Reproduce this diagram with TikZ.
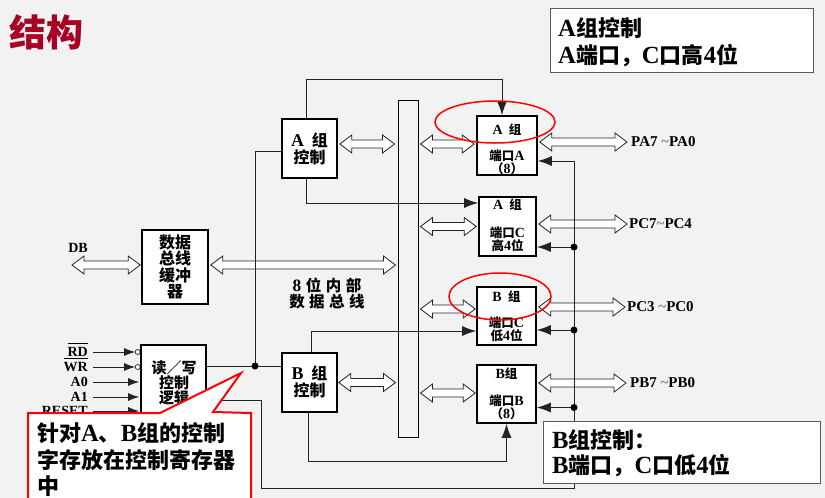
\documentclass[tikz,border=0pt]{standalone}
\usepackage{fontspec}
\setmainfont{Liberation Serif}
\newfontfamily\cjk{Noto Sans CJK SC}
\newfontfamily\latf{Liberation Serif}[Scale=1.12]
\usetikzlibrary{arrows.meta,calc,shapes.geometric}
\definecolor{bg}{RGB}{242,242,242}
\definecolor{titlered}{RGB}{168,0,36}
\definecolor{linec}{RGB}{35,35,35}
\newcommand\lat[1]{{\latf\bfseries #1}}
\newcommand\gapc{\hspace{4.5pt}}
\newcommand\ovl[1]{\setbox0\hbox{#1}\rlap{\rule[12.8pt]{\wd0}{0.8pt}}\box0}
\tikzset{
 blk/.style={draw=black, line width=1.6pt, fill=white, inner sep=0pt},
 conn/.style={draw=linec, line width=1pt},
 arr/.style={-{Latex[length=14pt,width=10pt]}},
 arrs/.style={-{Latex[length=11pt,width=8pt]}},
 txt/.style={inner sep=0pt, font=\cjk\bfseries\fontsize{#1}{#1}\selectfont},
 lab/.style={inner sep=0pt, font=\bfseries\fontsize{#1}{#1}\selectfont},
 dotc/.style={circle, fill=black, inner sep=0pt, minimum size=7pt},
 ringc/.style={circle, draw=linec, fill=white, line width=0.7pt, inner sep=0pt, minimum size=5pt},
 infobox/.style={draw=black!65, line width=1pt, fill=white, inner sep=0pt},
 redell/.style={ellipse, draw=red, line width=1.5pt, inner sep=0pt},
 barrow/.style={draw=linec, fill=white, line width=0.8pt, to path={
   let \p1=(\tikztostart), \p2=(\tikztotarget) in
   (\x1,\y1) -- (\x1+12pt,\y1+9pt) -- (\x1+12pt,\y1+4pt) -- (\x2-12pt,\y1+4pt) -- (\x2-12pt,\y1+9pt) -- (\x2,\y1) -- (\x2-12pt,\y1-9pt) -- (\x2-12pt,\y1-4pt) -- (\x1+12pt,\y1-4pt) -- (\x1+12pt,\y1-9pt) -- cycle}},
}
\begin{document}
\begin{tikzpicture}[x=1pt,y=-1pt]
\useasboundingbox[fill=bg] (0,0) rectangle (825,498);

% title
\node[txt=37, text=titlered, anchor=base west] (title) at (9,46.5) {结构};

% internal bus
\node[draw=black, line width=1pt, minimum width=20pt, minimum height=337pt, inner sep=0pt] (bus) at (408,268.5) {};

% boxes
\node[blk, minimum width=55pt, minimum height=59pt] (actrl) at (309.5,148.5) {};
\node[blk, minimum width=60pt, minimum height=59pt] (pa) at (507,145.5) {};
\node[blk, minimum width=57pt, minimum height=59pt] (pch) at (507.5,226.5) {};
\node[blk, minimum width=59pt, minimum height=58pt] (pcl) at (506.5,316) {};
\node[blk, minimum width=59pt, minimum height=58pt] (pb) at (506.5,394) {};
\node[blk, minimum width=55pt, minimum height=59pt] (bctrl) at (309.5,382.5) {};
\node[blk, minimum width=66pt, minimum height=74pt] (buf) at (175,267) {};
\node[blk, minimum width=65pt, minimum height=95pt] (rw) at (173.5,392.5) {};

% box texts
\node[txt=16] (actrl1) at (309.5,140) {\lat{A}\hspace{0.5em}组};
\node[txt=16] (actrl2) at (309.5,157) {控制};
\node[txt=16] (bctrl1) at (309.5,373) {\lat{B}\hspace{0.5em}组};
\node[txt=16] (bctrl2) at (309.5,390) {控制};

\node[txt=12.5] (pa1) at (507,130) {\lat{A}\hspace{0.5em}组};
\node[txt=12.5] (pa2) at (507,156) {端口\lat{A}};
\node[txt=12.5] (pa3) at (507,168.5) {（\lat{8}）};
\node[txt=12.5] (pch1) at (507.5,205) {\lat{A}\hspace{0.5em}组};
\node[txt=12.5] (pch2) at (507.5,233) {端口\lat{C}};
\node[txt=12.5] (pch3) at (507.5,246) {高\lat{4}位};
\node[txt=12.5] (pcl1) at (506.5,297) {\lat{B}\hspace{0.5em}组};
\node[txt=12.5] (pcl2) at (506.5,323) {端口\lat{C}};
\node[txt=12.5] (pcl3) at (506.5,336) {低\lat{4}位};
\node[txt=12.5] (pb1) at (506.5,374) {\lat{B}组};
\node[txt=12.5] (pb2) at (506.5,401) {端口\lat{B}};
\node[txt=12.5] (pb3) at (506.5,414) {（\lat{8}）};

\node[txt=16] (buf1) at (175,242) {数据};
\node[txt=16] (buf2) at (175,258.5) {总线};
\node[txt=16] (buf3) at (175,275) {缓冲};
\node[txt=16] (buf4) at (175,291.5) {器};

\node[txt=15] (rw1) at (174,368) {读／写};
\node[txt=15] (rw2) at (174,383) {控制};
\node[txt=15] (rw3) at (174,398) {逻辑};

\node[txt=15.5] (busl1) at (327,285) {\lat{8}\gapc 位\gapc 内\gapc 部};
\node[txt=15.5] (busl2) at (327,302) {数\gapc 据\gapc 总\gapc 线};

% outside labels
\node[lab=14, anchor=center] (ldb) at (78,248) {DB};
\coordinate (db) at (72,265);
\node[lab=15, anchor=west] (lpa) at (631,142) {PA7 \textcolor{gray}{\textasciitilde}PA0};
\node[lab=15, anchor=west] (lpch) at (629,224) {PC7\textcolor{gray}{\textasciitilde}PC4};
\node[lab=15, anchor=west] (lpcl) at (627,307) {PC3 \textcolor{gray}{\textasciitilde}PC0};
\node[lab=15, anchor=west] (lpb) at (630,383) {PB7 \textcolor{gray}{\textasciitilde}PB0};

% input signals
\node[lab=14, anchor=east] (lrd) at (88,349.8) {\ovl{RD}};
\node[lab=14, anchor=east] (lwr) at (88,364.8) {\ovl{WR}};
\node[lab=14, anchor=east] (la0) at (88,382) {A0};
\node[lab=14, anchor=east] (la1) at (88,397) {A1};
\node[lab=14, anchor=east] (lrs) at (88,411) {RESET};
\coordinate (ird) at (93,352);
\coordinate (iwr) at (93,367);
\coordinate (ia0) at (93,382);
\coordinate (ia1) at (93,397);
\coordinate (irs) at (93,411);
\draw[conn,arrs] (ird) -- ([xshift=-5pt]ird -| rw.west);
\draw[conn,arrs] (iwr) -- ([xshift=-5pt]iwr -| rw.west);
\node[ringc] (crd) at ([xshift=-2.5pt]ird -| rw.west) {};
\node[ringc] (cwr) at ([xshift=-2.5pt]iwr -| rw.west) {};
\draw[conn,arrs] (ia0) -- ([xshift=-1pt]ia0 -| rw.west);
\draw[conn,arrs] (ia1) -- ([xshift=-1pt]ia1 -| rw.west);
\draw[conn,arrs] (irs) -- ([xshift=-1pt]irs -| rw.west);

% block (hollow) double arrows
\draw[barrow] ([shift={(2pt,4.5pt)}]actrl.east) to ([xshift=-3pt]bus.west);
\draw[barrow] ([shift={(2pt,1.5pt)}]bus.east |- pa.west) to ([xshift=-2pt]pa.west);
\draw[barrow] ([xshift=2pt]bus.east |- pch.west) to ([xshift=-2pt]pch.west);
\draw[barrow] ([shift={(2pt,2pt)}]buf.east) to ([xshift=-2pt]bus.west);
\draw[barrow] (db) to ([xshift=-1pt]buf.west);
\draw[barrow] ([shift={(2pt,7pt)}]bus.east |- pcl.west) to ([xshift=-1pt]pcl.west);
\draw[barrow] ([xshift=1pt]bctrl.east) to ([xshift=-2pt]bus.west);
\draw[barrow] ([shift={(2pt,1pt)}]bus.east |- pb.west) to ([xshift=-1pt]pb.west);
\draw[barrow] ([shift={(2pt,3.5pt)}]pa.east) to ([xshift=-4pt]lpa.west);
\draw[barrow] ([shift={(2pt,2.5pt)}]pch.east) to ([xshift=-2pt]lpch.west);
\draw[barrow] ([shift={(2pt,9pt)}]pcl.east) to ([xshift=-2pt]lpcl.west);
\draw[barrow] ([shift={(2pt,11pt)}]pb.east) to ([xshift=-4pt]lpb.west);

% control lines
\draw[conn,arr] ([xshift=-3.5pt]actrl.north) -- ++(0,-39) -| ([xshift=-5pt]pa.north);
\draw[conn,arr] ([xshift=-3.5pt]actrl.south) |- ([yshift=23.5pt]pch.west);
\draw[conn,arr] ([xshift=1.5pt]bctrl.north) |- ([yshift=-15pt]pcl.west);
\draw[conn,arr] ([xshift=-1.5pt]bctrl.south) -- ++(0,49) -| (pb.south);

\coordinate (j1c) at (255,366);
\draw[conn] ([yshift=-2.5pt]actrl.west) -| (j1c);
\draw[conn] (j1c -| rw.east) -- (j1c -| bctrl.west);
\node[dotc] (j1) at (j1c) {};

\coordinate (b1) at (261,488);
\coordinate (b2) at (574,488);
\coordinate (b3) at (574,161);
\draw[conn,arr] ([yshift=-7.5pt]rw.east) -| (b1) -- (b2) -- (b3) -- (b3 -| pa.east);
\coordinate (d1c) at (574,247);
\coordinate (d2c) at (574,330);
\coordinate (d3c) at (574,407.5);
\draw[conn,arr] (d1c) -- (d1c -| pch.east);
\draw[conn,arr] (d2c) -- (d2c -| pcl.east);
\draw[conn,arr] (d3c) -- (d3c -| pb.east);
\node[dotc] (d1) at (d1c) {};
\node[dotc] (d2) at (d2c) {};
\node[dotc] (d3) at (d3c) {};

% red ellipses
\node[redell, minimum width=120pt, minimum height=42pt] (ela) at (495,122) {};
\node[redell, minimum width=102pt, minimum height=47pt] (elb) at (500,296.5) {};

% info boxes
\node[infobox, minimum width=263pt, minimum height=64pt] (infoa) at (681.5,40) {};
\node[txt=22, anchor=base west] (infoa1) at (558,36.5) {\lat{A}组控制};
\node[txt=22, anchor=base west] (infoa2) at (558,63.5) {\lat{A}端口，\lat{C}口高\lat{4}位};

\node[infobox, minimum width=277pt, minimum height=62pt] (infob) at (681.5,452) {};
\node[txt=22, anchor=base west] (infob1) at (552,448.5) {\lat{B}组控制：};
\node[txt=22, anchor=base west] (infob2) at (552,473.5) {\lat{B}端口，\lat{C}口低\lat{4}位};

% callout
\draw[draw=red, line width=2pt, fill=white, line join=miter] (28,413) -- (160,413) -- (241,373) -- (213,412) -- (251,413) -- (251,502) -- (28,502) -- cycle;
\node[txt=22, anchor=base west] (co1) at (37,441.5) {针对\lat{A}、\lat{B}组的控制};
\node[txt=22, anchor=base west] (co2) at (37,468) {字存放在控制寄存器};
\node[txt=22, anchor=base west] (co3) at (37,494) {中};
\end{tikzpicture}
\end{document}
